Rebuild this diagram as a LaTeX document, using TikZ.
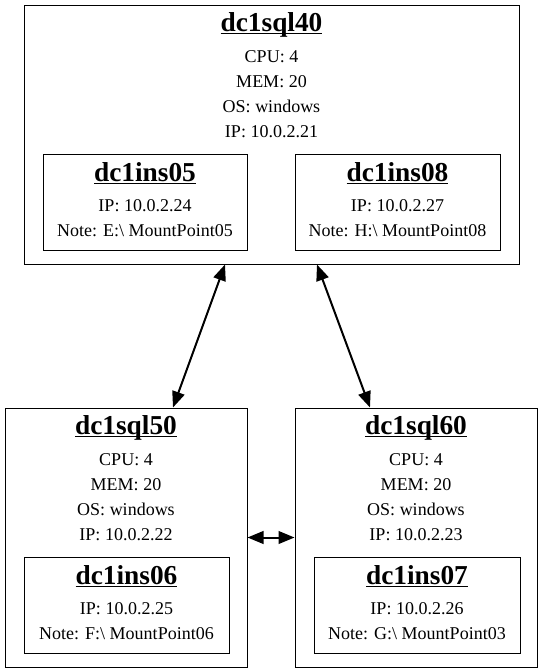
\documentclass[tikz,border=0pt]{standalone}
\usepackage{fontspec}
\setmainfont{Liberation Serif}
\usetikzlibrary{arrows.meta,positioning,calc}
\newcommand{\ulname}[1]{\underline{\smash{#1}}}

\begin{document}
\begin{tikzpicture}[
    x=0.75pt, y=-0.75pt,
    box/.style={rectangle, draw, line width=0.75pt, inner sep=0pt},
    hosttitle/.style={anchor=base, inner sep=0pt, font=\fontsize{20.5}{24}\selectfont\bfseries},
    attr/.style={anchor=base, inner sep=0pt, font=\fontsize{13.5}{16}\selectfont},
    arrow/.style={{Triangle[length=12pt 0 0,width=9.5pt 0 0]}-{Triangle[length=12pt 0 0,width=9.5pt 0 0]}, line width=1.5pt}
]
    \useasboundingbox (0,0) rectangle (543,672);

    % hosts
    \node[box, minimum width=371.25pt, minimum height=194.25pt] (sql40) at (271.5,134.5) {};
    \node[box, minimum width=181.5pt, minimum height=194.25pt] (sql50) at (126,537.5) {};
    \node[box, minimum width=181.5pt, minimum height=194.25pt] (sql60) at (416,537.5) {};

    % instances
    \node[box, minimum width=153pt, minimum height=72pt] (ins05) at (145,202) {};
    \node[box, minimum width=153.75pt, minimum height=72pt] (ins08) at (397.5,202) {};
    \node[box, minimum width=153.75pt, minimum height=72pt] (ins06) at (126.5,605) {};
    \node[box, minimum width=154.5pt, minimum height=72pt] (ins07) at (417,605) {};

    % host texts
    \node[hosttitle] (sql40-t) at ([yshift=-20.25pt]sql40.north) {\ulname{dc1sql40}};
    \foreach \txt [count=\i] in {CPU: 4, MEM: 20, OS: windows, IP: 10.0.2.21}
        \node[attr] (sql40-\i) at ([yshift={-(25*\i+33)*0.75pt}]sql40.north) {\txt};
    \node[hosttitle] (sql50-t) at ([yshift=-20.25pt]sql50.north) {\ulname{dc1sql50}};
    \foreach \txt [count=\i] in {CPU: 4, MEM: 20, OS: windows, IP: 10.0.2.22}
        \node[attr] (sql50-\i) at ([yshift={-(25*\i+33)*0.75pt}]sql50.north) {\txt};
    \node[hosttitle] (sql60-t) at ([yshift=-20.25pt]sql60.north) {\ulname{dc1sql60}};
    \foreach \txt [count=\i] in {CPU: 4, MEM: 20, OS: windows, IP: 10.0.2.23}
        \node[attr] (sql60-\i) at ([yshift={-(25*\i+33)*0.75pt}]sql60.north) {\txt};

    % instance texts
    \node[hosttitle] (ins05-t) at ([yshift=-21pt]ins05.north) {\ulname{dc1ins05}};
    \node[attr] (ins05-1) at ([yshift=-43.5pt]ins05.north) {IP: 10.0.2.24};
    \node[attr] (ins05-2) at ([yshift=-62.25pt]ins05.north) {Note: E:\textbackslash\ MountPoint05};
    \node[hosttitle] (ins08-t) at ([yshift=-21pt]ins08.north) {\ulname{dc1ins08}};
    \node[attr] (ins08-1) at ([yshift=-43.5pt]ins08.north) {IP: 10.0.2.27};
    \node[attr] (ins08-2) at ([yshift=-62.25pt]ins08.north) {Note: H:\textbackslash\ MountPoint08};
    \node[hosttitle] (ins06-t) at ([yshift=-21pt]ins06.north) {\ulname{dc1ins06}};
    \node[attr] (ins06-1) at ([yshift=-43.5pt]ins06.north) {IP: 10.0.2.25};
    \node[attr] (ins06-2) at ([yshift=-62.25pt]ins06.north) {Note: F:\textbackslash\ MountPoint06};
    \node[hosttitle] (ins07-t) at ([yshift=-21pt]ins07.north) {\ulname{dc1ins07}};
    \node[attr] (ins07-1) at ([yshift=-43.5pt]ins07.north) {IP: 10.0.2.26};
    \node[attr] (ins07-2) at ([yshift=-62.25pt]ins07.north) {Note: G:\textbackslash\ MountPoint03};

    % links
    \draw[arrow] ([xshift=-34.875pt]sql40.south) -- ([xshift=35.25pt]sql50.north);
    \draw[arrow] ([xshift=34.125pt]sql40.south) -- ([xshift=-34.5pt]sql60.north);
    \draw[arrow] (sql50) -- (sql60);
\end{tikzpicture}
\end{document}
